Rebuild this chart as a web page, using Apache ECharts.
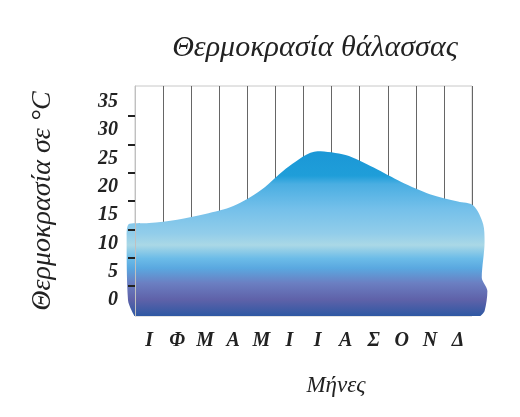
<!DOCTYPE html>
<html>
<head>
<meta charset="utf-8">
<script src="https://cdn.jsdelivr.net/npm/echarts@6/dist/echarts.min.js"></script>
<style>html,body{margin:0;padding:0;background:#fff}#c{width:520px;height:417px}</style>
</head>
<body>
<div id="c"></div>
<script>
var months = ['Ι','Φ','Μ','Α','Μ','Ι','Ι','Α','Σ','Ο','Ν','Δ'];
var seaTemp = [13.6, 14.2, 15.2, 16.6, 19.5, 23.7, 26.3, 25.6, 23.4, 20.8, 18.7, 17.4];
var yLabelValues = [0, 5, 10, 15, 20, 25, 30, 35];
var yTickValues = [2.5, 7.5, 12.5, 17.5, 22.5, 27.5, 32.5];
// outline of the blob beyond the first and last month: [month position, °C]
var leftEdge = [[-0.02, -2.8], [-0.25, 0.0], [-0.3, 11.5], [-0.2, 13.5]];
var rightEdge = [[12.05, 16.7], [12.4, 13.4], [12.45, 10.3], [12.35, 4.0], [12.55, 1.6], [12.45, -1.9], [12.3, -2.8]];

var pts = leftEdge.concat(seaTemp.map(function (v, i) { return [i + 0.5, v]; }), rightEdge);

var serif = '"Liberation Serif", "DejaVu Serif", serif';
var chart = echarts.init(document.getElementById('c'));
chart.setOption({
  animation: false,
  title: [{
    text: 'Θερμοκρασία θάλασσας',
    left: 310, top: 28, textAlign: 'center',
    textStyle: { fontFamily: serif, fontStyle: 'italic', fontWeight: 'normal', fontSize: 30, color: '#222' }
  }, {
    text: 'Μήνες',
    left: 331, top: 369, textAlign: 'center',
    textStyle: { fontFamily: serif, fontStyle: 'italic', fontWeight: 'normal', fontSize: 23, color: '#222' }
  }],
  grid: [
    { left: 135, right: 48, top: 86, bottom: 101, show: true, borderColor: '#c8c8c8', borderWidth: 1 },
    { left: 121, right: 27, top: 86, bottom: 101, show: false }
  ],
  xAxis: [{
    type: 'category', data: months, boundaryGap: true, z: 3, gridIndex: 0,
    axisLine: { show: false }, axisTick: { show: false },
    axisLabel: { margin: 15, fontFamily: serif, fontStyle: 'italic', fontWeight: 'bold', fontSize: 20, color: '#222' },
    splitLine: { show: true, lineStyle: { color: '#666666', width: 1 } }
  }, {
    type: 'value', min: -0.5, max: 12.75, show: false, gridIndex: 1
  }],
  yAxis: [{
    type: 'value', min: -2.8, max: 37.8, z: 3, gridIndex: 0,
    name: 'Θερμοκρασία σε °C', nameLocation: 'middle', nameRotate: 90, nameGap: 78,
    nameTextStyle: { fontFamily: serif, fontStyle: 'italic', fontSize: 28, color: '#222' },
    axisLine: { show: true, lineStyle: { color: '#c0c0c0' } },
    axisTick: { show: true, customValues: yTickValues, length: 7, lineStyle: { color: '#222', width: 2 } },
    axisLabel: { customValues: yLabelValues, margin: 17, fontFamily: serif, fontStyle: 'italic', fontWeight: 'bold', fontSize: 20, color: '#222' },
    splitLine: { show: false }
  }, {
    type: 'value', min: -2.8, max: 37.8, show: false, gridIndex: 1
  }],
  series: [{
    type: 'line', xAxisIndex: 1, yAxisIndex: 1, data: pts, smooth: 0.3, symbol: 'none', clip: false,
    lineStyle: { width: 0 },
    areaStyle: {
      origin: 'start',
      opacity: 1,
      color: new echarts.graphic.LinearGradient(0, 0, 0, 1, [
        { offset: 0, color: '#1b97d6' },
        { offset: 0.15, color: '#1f9ed9' },
        { offset: 0.2, color: '#4aaee2' },
        { offset: 0.35, color: '#74c0ea' },
        { offset: 0.5, color: '#92cdea' },
        { offset: 0.57, color: '#aad8e6' },
        { offset: 0.65, color: '#6cbce8' },
        { offset: 0.71, color: '#5aa8e0' },
        { offset: 0.8, color: '#6b7fc2' },
        { offset: 0.9, color: '#5f62a9' },
        { offset: 1, color: '#2e58a3' }
      ])
    }
  }]
});
</script>
</body>
</html>
